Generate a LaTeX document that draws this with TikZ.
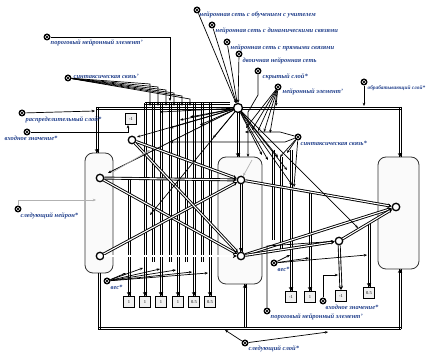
\documentclass[tikz,border=0pt]{standalone}
\usepackage{fontspec}
\setmainfont{Liberation Serif}
\usetikzlibrary{arrows.meta}
\definecolor{lblue}{RGB}{35,65,140}
\begin{document}
\begin{tikzpicture}[x=1pt,y=-1pt,
  layer/.style={draw=black!80, line width=0.8pt, rounded corners=8pt, fill=black!2},
  neuron/.style={circle, draw, line width=1.3pt, minimum size=7.5pt, inner sep=0pt, fill=white},
  hubnode/.style={circle, draw, line width=1.3pt, minimum size=9pt, inner sep=0pt, fill=white, path picture={\fill (path picture bounding box.center) circle (1.5pt);}},
  mk/.style={circle, fill=black, minimum size=7pt, inner sep=0pt, path picture={\draw[white, line width=0.6pt] (path picture bounding box.center) circle (1.8pt); \fill[black] (path picture bounding box.center) circle (0.8pt);}},
  lbl/.style={text=lblue, font=\fontsize{6.5}{7}\selectfont\bfseries\itshape, anchor=west, inner sep=0.5pt},
  dbl/.style={double, line width=0.9pt, double distance=1.1pt},
  darr/.style={dbl, -{Stealth[length=3.8pt,width=4.4pt]}},
  vtw/.style={draw=none, preaction={draw=black, line width=0.75pt, transform canvas={xshift=-1.1pt}}, postaction={draw=black, line width=0.75pt, transform canvas={xshift=1.1pt}}},
  htw/.style={draw=none, preaction={draw=black, line width=0.75pt, transform canvas={yshift=-1.1pt}}, postaction={draw=black, line width=0.75pt, transform canvas={yshift=1.1pt}}},
  tip/.style={-{Stealth[length=3.8pt,width=4.4pt]}, line width=0.6pt},
  arr/.style={-{Stealth[length=3.2pt,width=2.6pt]}, line width=0.7pt},
  garr/.style={arr, draw=black!30},
  wbox/.style={draw, line width=1.1pt, fill=black!6, minimum width=11pt, minimum height=11pt, inner sep=0pt, font=\fontsize{4.5}{5}\selectfont},
]
\useasboundingbox (0,0) rectangle (429,352);

% layers
\draw[layer] (85,153) rectangle (113,273);
\draw[layer] (218,157) rectangle (262,284);
\draw[layer] (378,157) rectangle (419,269);

% neurons (coordinates first)
\node[neuron] (LT) at (100,178) {};
\node[neuron] (LB) at (100,256) {};
\node[neuron] (MT) at (241,180) {};
\node[neuron] (MB) at (241,256) {};
\node[neuron] (R) at (396,207) {};
\node[neuron] (S1) at (132,140) {};
\node[neuron] (S2) at (339,241) {};

% weight boxes
\node[wbox] (w1) at (129,302) {1};
\node[wbox] (w2) at (145,302) {1};
\node[wbox] (w3) at (161,302) {1};
\node[wbox] (w4) at (178,302) {1};
\node[wbox] (w5) at (194,302) {0.5};
\node[wbox] (w6) at (210,302) {0.5};
\node[wbox] (v1) at (291,297) {-1};
\node[wbox] (v2) at (310,297) {1};
\node[wbox] (v3) at (341,296) {-1};
\node[wbox] (v4) at (369,293) {0.5};
\node[wbox] (t1) at (131,119) {-1};

% weight verticals
\draw[vtw] (129,180) -- (w1.north);
\foreach \x/\w in {145/w2,161/w3,178/w4,194/w5,210/w6}
  \draw[vtw] (\x,103) -- (\w.north);
\foreach \w in {w1,w2,w3,w4,w5,w6,v1,v2,v4}
  \draw[tip] ([yshift=4pt]\w.north) -- (\w.north);
\foreach \x in {153,170,186,202}
  \draw[vtw] (\x,103) -- (\x,262);
\draw[vtw] (291,150) -- (v1.north);
\draw[vtw] (310,192) -- (v2.north);
\draw[vtw] (369,223) -- (v4.north);
\draw[vtw] (273,150) -- (273,240);
\draw[vtw] (281,157) -- (281,250);
\draw[darr] (S2) -- (v3.north);

% frames
\draw[htw] (96,108) -- (401,108);
\draw[vtw] (97,107) -- (97,153);
\draw[tip] (97,149) -- (97,153);
\draw[vtw] (400,107) -- (400,157);
\draw[tip] (400,153) -- (400,157);
\draw[vtw] (238,108) -- (238,157);
\draw[tip] (238,153) -- (238,157);
\draw[vtw] (99,273) -- (99,329);
\draw[htw] (98,328) -- (401,328);
\draw[vtw] (400,329) -- (400,269);
\draw[tip] (400,273) -- (400,269);
\draw[vtw] (245,328) -- (245,284);
\draw[tip] (245,288) -- (245,284);
\draw[htw] (145,103) -- (230,103);

% edges
\draw[darr] (LT) -- (MT);
\draw[darr] (LT) -- (MB);
\draw[darr] (LB) -- (MT);
\draw[darr] (LB) -- (MB);
\draw[darr] (S1) -- (MT);
\draw[darr] (S1) -- (MB);
\draw[darr] (MT) -- (R);
\draw[darr] (MB) -- (R);
\draw[darr] (S2) -- (R);
\draw[vtw] (MT) -- (MB);
\draw[tip] ([yshift=8pt]MB.center) -- (MB.north);
\draw[darr] (MB) -- (S2);

\node[hubnode] (H) at (238,108) {};

% hub fan
\foreach \p in {(137,137),(108,173),(150,215),(170,128),(180,120),(190,117),(200,125),(213,138),(160,112)}
  \draw[arr] (H) -- \p;
\foreach \p in {(262,155),(268,160),(278,157),(287,170),(292,185),(358,228)}
  \draw[arr] (H) -- \p;
\draw[garr] (252,160) -- (MT);
\draw[garr] (113,172) -- (150,150);

% markers and labels
\node[mk] (m1) at (197,10) {};
\node[lbl] at (199,15) {нейронная сеть с обучением с учителем};
\node[mk] (m2) at (212,25) {};
\node[lbl] at (215,31) {нейронная сеть с динамическими связями};
\node[mk] (m3) at (227,42) {};
\node[lbl] at (230,48) {нейронная сеть с прямыми связями};
\node[mk] (m4) at (239,54) {};
\node[lbl] at (242,61) {двоичная нейронная сеть};
\node[mk] (m5) at (258,71) {};
\node[lbl] at (262,77) {скрытый слой*};
\node[mk] (m6) at (278,87) {};
\node[lbl] at (282,92) {нейронный элемент'};
\node[mk] (m7) at (364,82) {};
\node[lbl, font=\fontsize{5.3}{6}\selectfont\bfseries\itshape] at (367,88) {обрабатывающий слой*};
\node[mk] (m8) at (47,37) {};
\node[lbl] at (50,43) {пороговый нейронный элемент'};
\node[mk] (m9) at (68,78) {};
\node[lbl] at (73,76) {синтаксическая связь'};
\node[mk] (m10) at (22,113) {};
\node[lbl] at (25,120) {распределительный слой*};
\node[mk] (m11) at (27,132) {};
\node[lbl] at (4,138) {входное значение*};
\node[mk] (m12) at (18,209) {};
\node[lbl] at (20,216) {следующий нейрон*};
\node[mk] (m13) at (298,137) {};
\node[lbl] at (300,143) {синтаксическая связь*};
\node[mk] (m14) at (107,281) {};
\node[lbl] at (110,287) {вес*};
\node[mk] (m15) at (274,263) {};
\node[lbl] at (277,269) {вес*};
\node[mk] (m16) at (323,301) {};
\node[lbl] at (325,307) {входное значение*};
\node[mk] (m17) at (267,311) {};
\node[lbl] at (270,317) {пороговый нейронный элемент'};
\node[mk] (m18) at (245,343) {};
\node[lbl] at (248,349) {следующий слой*};

% marker connectors
\foreach \m in {m1,m2,m3,m4} \draw[arr] (\m) -- (H);
\draw[arr] (m5) -- (258,95) -- (248,112) -- (248,157);
\foreach \p in {(246,128),(252,130),(258,131),(264,132),(270,133),(276,106)} \draw[arr] (m6) -- \p;
\draw[arr] (m7) -- (364,106);
\draw[arr] (m8) -- (170,37) -- (170,101);
\foreach \x/\y in {150/84,158/87,166/90,174/93,182/96,190/99}
  \draw[arr] (m9) -- (\x,\y) -- (\x,106);
\draw[arr] (m10) -- (95,111);
\draw[arr] (m11) -- (128,132) -- (128,125);
\draw[garr] (m12) -- (18,200) -- (96,200);
\draw[arr] (m13) -- (285,142) -- (170,142);
\draw[arr] (m13) -- (280,132) -- (245,132);
\foreach \p in {(280,157),(287,153),(294,187)} \draw[arr] (m13) -- \p;
\foreach \p in {(126,273),(143,268),(160,269),(176,270),(192,272),(208,273)} \draw[arr] (m14) -- \p;
\foreach \p in {(290,255),(309,258),(367,255)} \draw[arr] (m15) -- \p;
\draw[arr] (m16) -- (323,275) -- (338,275);
\draw[arr] (m17) -- (267,246) -- (S2);
\draw[arr] (m18) -- (225,330);
\draw[arr] (m18) -- (328,332);
\end{tikzpicture}
\end{document}
